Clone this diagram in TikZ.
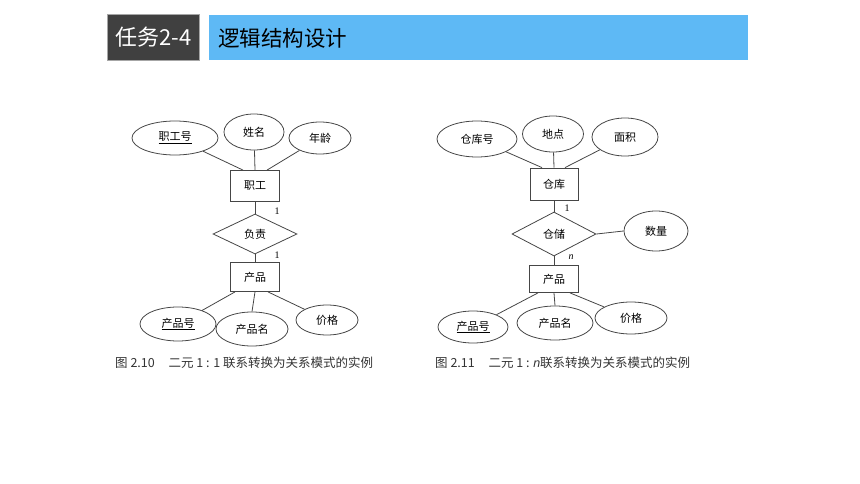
\documentclass[tikz,border=0pt]{standalone}
\usepackage{fontspec}
\setmainfont{Noto Sans CJK SC}
\newfontfamily\cjk{Noto Sans CJK SC}
\newfontfamily\serifnum{Liberation Serif}
\newfontfamily\latinsans{Liberation Sans}
\usetikzlibrary{shapes.geometric}
\definecolor{hdrdark}{RGB}{64,64,64}
\definecolor{hdrblue}{RGB}{94,185,245}
\definecolor{linegray}{RGB}{70,70,70}
\definecolor{captiongray}{RGB}{51,51,51}
\tikzset{
  attr/.style={ellipse, draw=linegray, line width=0.8pt, inner sep=0pt, font=\cjk\fontsize{11}{13}\selectfont, text=black},
  entity/.style={rectangle, draw=linegray, line width=0.8pt, inner sep=0pt, font=\cjk\fontsize{11}{13}\selectfont, text=black},
  relat/.style={diamond, draw=linegray, line width=0.8pt, inner sep=0pt, font=\cjk\fontsize{11}{13}\selectfont, text=black},
  conn/.style={draw=linegray, line width=0.8pt},
  card/.style={font=\serifnum\fontsize{10}{12}\selectfont, text=black, inner sep=0pt},
  caption/.style={anchor=west, inner sep=0pt, font=\cjk\fontsize{12.5}{15}\selectfont, text=captiongray},
}
\begin{document}
\begin{tikzpicture}[x=1pt,y=-1pt]
\useasboundingbox (0,0) rectangle (860,484);
% header
\node[fill=hdrdark, draw=gray!70, line width=0.5pt, minimum width=92pt, minimum height=46pt, inner sep=0pt, anchor=north west, text=white, font=\cjk\fontsize{22}{26}\selectfont] (hdrA) at (107,14) {任务2-4};
\node[fill=hdrblue, minimum width=539pt, minimum height=45pt, inner sep=0pt, anchor=north west] (hdrB) at (209,15) {};
\node[anchor=west, inner sep=0pt, text=black, font=\cjk\fontsize{21.5}{26}\selectfont] (hdrT) at (218,38) {逻辑结构设计};

% left diagram
\node[attr, minimum width=86pt, minimum height=34pt] (eA1) at (175,138) {\underline{职工号}};
\node[attr, minimum width=60pt, minimum height=36pt] (eA2) at (254,132) {姓名};
\node[attr, minimum width=62pt, minimum height=32pt] (eA3) at (320,138) {年龄};
\node[entity, minimum width=49pt, minimum height=31pt] (rA1) at (255,186) {职工};
\node[relat, minimum width=84pt, minimum height=40pt] (dA) at (255,234) {负责};
\node[entity, minimum width=49pt, minimum height=29pt] (rA2) at (255,277) {产品};
\node[attr, minimum width=76pt, minimum height=34pt] (eA4) at (178,324) {\underline{产品号}};
\node[attr, minimum width=72pt, minimum height=34pt] (eA5) at (252,329) {产品名};
\node[attr, minimum width=62pt, minimum height=30pt] (eA6) at (327,320) {价格};
\node[card] (cA1) at (277,211) {1};
\node[card] (cA2) at (277,255) {1};

\coordinate (rA1t1) at ([xshift=-12pt]rA1.north);
\coordinate (rA1t3) at ([xshift=12pt]rA1.north);
\draw[conn] (eA1) -- (rA1t1);
\draw[conn] (eA2) -- (rA1.north);
\draw[conn] (eA3) -- (rA1t3);
\draw[conn] (rA1.south) -- (dA.north);
\draw[conn] (dA.south) -- (rA2.north);
\coordinate (rA2b1) at ([xshift=-20pt]rA2.south);
\coordinate (rA2b3) at ([xshift=13pt]rA2.south);
\draw[conn] (rA2b1) -- (eA4);
\draw[conn] (rA2.south) -- (eA5.north);
\draw[conn] (rA2b3) -- (eA6);

\node[caption] (capA) at (115,363) {图 2.10\hspace{1.1em}二元 1 : 1 联系转换为关系模式的实例};

% right diagram
\node[attr, minimum width=80pt, minimum height=36pt] (eB1) at (477,139) {仓库号};
\node[attr, minimum width=61pt, minimum height=36pt] (eB2) at (553,134) {地点};
\node[attr, minimum width=66pt, minimum height=38pt] (eB3) at (625,137) {面积};
\node[entity, minimum width=48pt, minimum height=32pt] (rB1) at (554,184) {仓库};
\node[relat, minimum width=84pt, minimum height=44pt] (dB) at (554,234) {仓储};
\node[attr, minimum width=64pt, minimum height=40pt] (eB4) at (656,231) {数量};
\node[entity, minimum width=49pt, minimum height=27pt] (rB2) at (554,279) {产品};
\node[attr, minimum width=70pt, minimum height=32pt] (eB5) at (473,327) {\underline{产品号}};
\node[attr, minimum width=76pt, minimum height=34pt] (eB6) at (555,323) {产品名};
\node[attr, minimum width=72pt, minimum height=32pt] (eB7) at (631,318) {价格};
\node[card] (cB1) at (567,208) {1};
\node[card, font=\serifnum\itshape\fontsize{10}{12}\selectfont] (cB2) at (571,257) {n};

\coordinate (rB1t1) at ([xshift=-12pt]rB1.north);
\coordinate (rB1t3) at ([xshift=11pt]rB1.north);
\draw[conn] (eB1) -- (rB1t1);
\draw[conn] (eB2) -- (rB1.north);
\draw[conn] (eB3) -- (rB1t3);
\draw[conn] (rB1.south) -- (dB.north);
\draw[conn] (dB.south) -- (rB2.north);
\draw[conn] (dB.east) -- (eB4.west);
\coordinate (rB2b1) at ([xshift=-16pt]rB2.south);
\coordinate (rB2b3) at ([xshift=16pt]rB2.south);
\draw[conn] (rB2b1) -- (eB5);
\draw[conn] (rB2.south) -- (eB6.north);
\draw[conn] (rB2b3) -- (eB7);

\node[caption] (capB) at (435,363) {图 2.11\hspace{1.1em}二元 1 : {\latinsans\itshape n}联系转换为关系模式的实例};
\end{tikzpicture}
\end{document}
